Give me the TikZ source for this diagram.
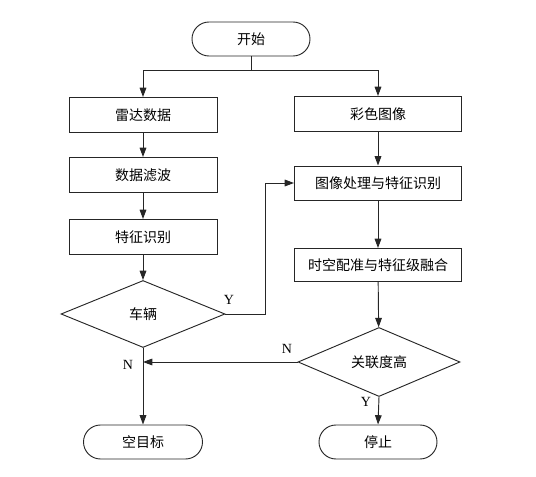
\documentclass[tikz,border=0pt]{standalone}
\usepackage{fontspec}
\setmainfont{Liberation Serif}
\newfontfamily\cjk{Noto Sans CJK SC}
\usetikzlibrary{shapes.geometric,arrows.meta}
\begin{document}
\begin{tikzpicture}[x=0.75pt,y=-0.75pt,
  line width=0.7pt, draw=black!85,
  box/.style={draw, minimum width=148*0.75pt, minimum height=35*0.75pt, inner sep=0pt, font=\cjk\fontsize{10.5}{12}\selectfont},
  term/.style={draw, rounded corners=17*0.75pt, minimum height=34*0.75pt, inner sep=0pt, font=\cjk\fontsize{10.5}{12}\selectfont},
  dec/.style={draw, diamond, aspect=2.4, minimum width=164*0.75pt, minimum height=67*0.75pt, inner sep=0pt, font=\cjk\fontsize{10.5}{12}\selectfont},
  arr/.style={-{Triangle[length=7pt,width=5pt]}},
  lab/.style={font=\fontsize{10.5}{12}\selectfont}]
\useasboundingbox (0,0) rectangle (536,477);
\node[term, minimum width=118*0.75pt] (start) at (251,39) {开始};
\node[box] (radar) at (143,115) {雷达数据};
\node[box] (filter) at (143,175) {数据滤波};
\node[box] (feat) at (143,237) {特征识别};
\node[dec] (car) at (143,314) {车辆};
\node[term, minimum width=119*0.75pt] (empty) at (143,442) {空目标};
\node[box, minimum width=167*0.75pt] (color) at (378,114) {彩色图像};
\node[box, minimum width=167*0.75pt, minimum height=34*0.75pt] (proc) at (378,183) {图像处理与特征识别};
\node[box, minimum width=167*0.75pt, minimum height=33*0.75pt] (fuse) at (378,265) {时空配准与特征级融合};
\node[dec, minimum width=162*0.75pt, minimum height=69*0.75pt] (rel) at (379,362) {关联度高};
\node[term, minimum width=118*0.75pt] (stop) at (378,442) {停止};
\coordinate (split) at (251,70);
\draw (start.south) -- (split);
\draw[arr] (split) -| (radar.north);
\draw[arr] (split) -| (color.north);
\draw[arr] (radar) -- (filter);
\draw[arr] (filter) -- (feat);
\draw[arr] (feat) -- (car);
\draw[arr] (car.south) -- (empty.north);
\draw[arr] (color) -- (proc);
\draw[arr] (proc) -- (fuse);
\draw[arr] (fuse) -- (rel);
\draw[arr] (rel.south) -- (stop.north);
\coordinate (yturn) at (265,314);
\draw[arr] (car.east) -- (yturn) |- (proc.west);
\draw[arr] (rel.west) -- (143,362);
\node[lab] (ly) at (229,300) {Y};
\node[lab] (ln1) at (287,349) {N};
\node[lab] (ln2) at (128,365) {N};
\node[lab] (ly2) at (366,402) {Y};
\end{tikzpicture}
\end{document}
